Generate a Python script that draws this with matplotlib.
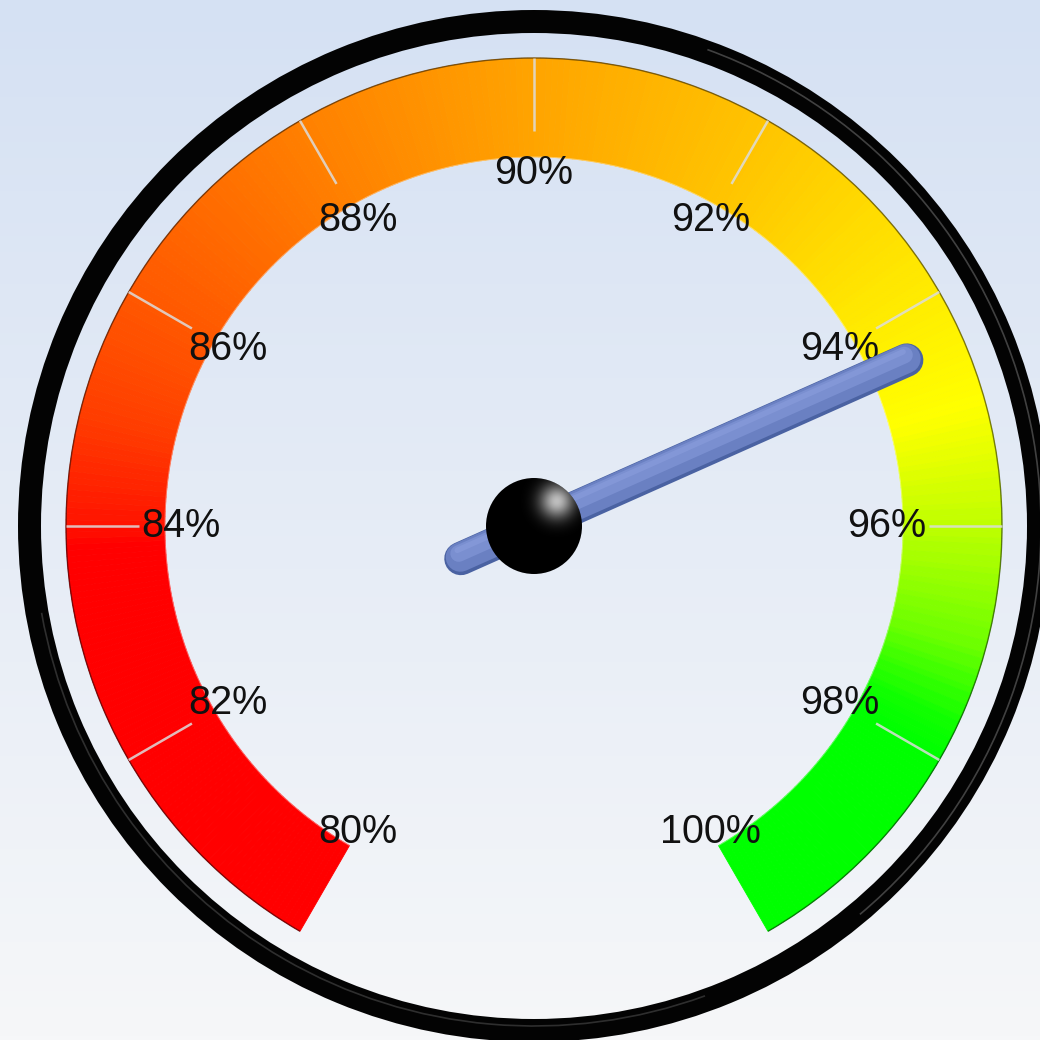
import numpy as np
import matplotlib
matplotlib.use("Agg")
import matplotlib.pyplot as plt
from matplotlib.patches import Wedge, Circle, Arc
from matplotlib.colors import LinearSegmentedColormap, to_rgb

# ---------------- data ----------------
gauge_min = 80
gauge_max = 100
gauge_value = 94.4
tick_values = [80, 82, 84, 86, 88, 90, 92, 94, 96, 98, 100]
tick_labels = ["80%", "82%", "84%", "86%", "88%", "90%", "92%", "94%", "96%", "98%", "100%"]
color_stop_values = [80, 83.8, 84, 85, 86, 87, 88, 89, 90, 91, 92, 93, 94, 95, 96, 97, 97.7, 98, 100]
color_stop_colors = ["#ff0000", "#ff0000", "#ff1400", "#ff4000", "#ff5800", "#ff6c00", "#ff8000",
                     "#ff9200", "#ffa400", "#ffb400", "#ffc400", "#ffd800", "#ffec00", "#ffff00",
                     "#c0ff00", "#70ff00", "#10ff00", "#00ff00", "#00ff00"]

# ---------------- layout ----------------
W = H = 1040
cx, cy = 534, 1040 - 526
R_ring_out, R_ring_in = 516, 493
R_band_out, R_band_in = 468, 369
R_tick_in = 395
R_label = 353
start_angle, end_angle = 240, -60


def val2ang(v):
    return start_angle + (v - gauge_min) / (gauge_max - gauge_min) * (end_angle - start_angle)


fig = plt.figure(figsize=(10.4, 10.4), dpi=100)
ax = fig.add_axes([0, 0, 1, 1])
ax.set_xlim(0, W)
ax.set_ylim(0, H)
ax.set_aspect("equal")
ax.axis("off")

# background gradient
top = np.array(to_rgb("#d5e1f3"))
bot = np.array(to_rgb("#f6f7f9"))
t = np.linspace(0, 1, 256)[:, None]
grad = (top * (1 - t) + bot * t)[:, None, :]
ax.imshow(grad, extent=[0, W, 0, H], origin="upper", aspect="auto", zorder=0)

# outer black ring
ax.add_patch(Wedge((cx, cy), R_ring_out, 0, 360, width=R_ring_out - R_ring_in,
                   facecolor="#030303", edgecolor="none", zorder=1))
ax.add_patch(Arc((cx, cy), 2 * 507, 2 * 507, theta1=-50, theta2=70, color="#6a6a6a",
                 lw=1.2, alpha=0.6, zorder=1.2))
ax.add_patch(Arc((cx, cy), 2 * 500, 2 * 500, theta1=190, theta2=290, color="#5a5a5a",
                 lw=1.2, alpha=0.5, zorder=1.2))

# colour band
cmap = LinearSegmentedColormap.from_list(
    "band",
    [((v - gauge_min) / (gauge_max - gauge_min), c) for v, c in zip(color_stop_values, color_stop_colors)])
n = 400
edges = np.linspace(gauge_min, gauge_max, n + 1)
for a, b in zip(edges[:-1], edges[1:]):
    col = cmap(((a + b) / 2 - gauge_min) / (gauge_max - gauge_min))
    ax.add_patch(Wedge((cx, cy), R_band_out, val2ang(b), val2ang(a),
                       width=R_band_out - R_band_in, facecolor=col, edgecolor=col,
                       lw=0.6, zorder=2))
ax.add_patch(Arc((cx, cy), 2 * R_band_out, 2 * R_band_out, theta1=end_angle, theta2=start_angle,
                 color="black", lw=1.0, alpha=0.5, zorder=2.5))
ax.add_patch(Arc((cx, cy), 2 * R_band_in, 2 * R_band_in, theta1=end_angle, theta2=start_angle,
                 color="white", lw=0.8, alpha=0.35, zorder=2.5))

# ticks and labels
for v, lab in zip(tick_values, tick_labels):
    th = np.deg2rad(val2ang(v))
    c, s = np.cos(th), np.sin(th)
    if gauge_min < v < gauge_max:
        ax.plot([cx + R_band_out * c, cx + R_tick_in * c], [cy + R_band_out * s, cy + R_tick_in * s],
                color="#dcdcdc", lw=1.8, alpha=0.85, zorder=3, solid_capstyle="butt")
    ax.text(cx + R_label * c, cy + R_label * s, lab, ha="center", va="center",
            fontsize=28.5, family=["Liberation Sans", "DejaVu Sans"], color="#111111", zorder=5)

# needle
th = np.deg2rad(val2ang(gauge_value))
ux, uy = np.cos(th), np.sin(th)
L_tip, L_tail = 408, 80
x0, y0 = cx - L_tail * ux, cy - L_tail * uy
x1, y1 = cx + L_tip * ux, cy + L_tip * uy
px, py = -uy, ux
ax.plot([x0, x1], [y0, y1], color="#4a62a2", lw=24, solid_capstyle="round", zorder=6)
ax.plot([x0 + 1.5 * px, x1 + 1.5 * px], [y0 + 1.5 * py, y1 + 1.5 * py], color="#6a80c2",
        lw=21, solid_capstyle="round", zorder=6.1)
ax.plot([x0 + 5.5 * px, x1 + 5.5 * px], [y0 + 5.5 * py, y1 + 5.5 * py], color="#7c91d2",
        lw=12, solid_capstyle="round", alpha=0.9, zorder=6.2)
ax.plot([x0 + 9 * px, x1 + 9 * px], [y0 + 9 * py, y1 + 9 * py], color="#8a9ddc",
        lw=4, solid_capstyle="round", alpha=0.6, zorder=6.3)

# hub
R_hub = 48
hub = Circle((cx, cy), R_hub, facecolor="black", edgecolor="none", zorder=7)
ax.add_patch(hub)
gx = np.linspace(cx - R_hub, cx + R_hub, 200)
gy = np.linspace(cy - R_hub, cy + R_hub, 200)
GX, GY = np.meshgrid(gx, gy)
hx, hy = cx + 23, cy + 25
d2 = (GX - hx) ** 2 + (GY - hy) ** 2
inten = 0.75 * np.exp(-d2 / (2 * 12.0 ** 2))
img = np.zeros((200, 200, 4))
img[..., 0] = img[..., 1] = img[..., 2] = 1.0
img[..., 3] = inten
im = ax.imshow(img, extent=[cx - R_hub, cx + R_hub, cy - R_hub, cy + R_hub], origin="lower",
               zorder=7.1, interpolation="bilinear")
im.set_clip_path(hub)

fig.savefig("out.png", dpi=100)
